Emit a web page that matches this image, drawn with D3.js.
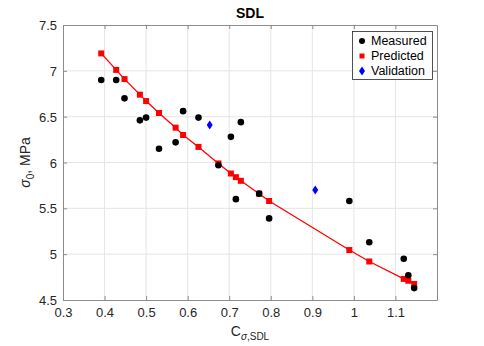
<!DOCTYPE html>
<html><head><meta charset="utf-8">
<script src="https://cdn.jsdelivr.net/npm/d3@7"></script>
<style>body{margin:0;background:#fff}svg{display:block;font-family:"Liberation Sans",Arial,sans-serif}</style>
</head><body><svg id="c" width="484" height="346"></svg>
<script>
const cValues = [0.392,0.428,0.448,0.485,0.500,0.531,0.571,0.589,0.626,0.674,0.704,0.716,0.728,0.772,0.796,0.989,1.037,1.120,1.131,1.145];
const measured = [6.90,6.90,6.70,6.46,6.49,6.15,6.22,6.56,6.49,5.97,6.28,5.60,6.44,5.66,5.39,5.58,5.13,4.95,4.77,4.63];
const predicted = [7.19,7.01,6.91,6.74,6.67,6.54,6.38,6.30,6.17,5.99,5.88,5.84,5.80,5.66,5.58,5.045,4.92,4.73,4.71,4.675];
const validationC = [0.653,0.907];
const validation = [6.41,5.70];
const xTicks = [0.3,0.4,0.5,0.6,0.7,0.8,0.9,1,1.1];
const yTicks = [4.5,5,5.5,6,6.5,7,7.5];
const legendLabels = ["Measured","Predicted","Validation"];

const svg = d3.select("#c");
const L=63,R=437,T=25,B=300;
const x = d3.scaleLinear().domain([0.3,1.2]).range([L,R]);
const y = d3.scaleLinear().domain([4.5,7.5]).range([B,T]);
const axCol="#262626", gridCol="#e5e5e5";

// grid
svg.append("g").selectAll("line").data(xTicks.slice(1)).join("line")
  .attr("x1",d=>x(d)).attr("x2",d=>x(d)).attr("y1",T).attr("y2",B).attr("stroke",gridCol);
svg.append("g").selectAll("line").data(yTicks.slice(1,-1)).join("line")
  .attr("y1",d=>y(d)).attr("y2",d=>y(d)).attr("x1",L).attr("x2",R).attr("stroke",gridCol);

// axes
const fmt = d=>String(d);
const gx = svg.append("g").attr("transform",`translate(0,${B})`)
  .call(d3.axisBottom(x).tickValues(xTicks).tickFormat(fmt).tickSizeInner(-4).tickSizeOuter(0).tickPadding(8));
const gy = svg.append("g").attr("transform",`translate(${L},0)`)
  .call(d3.axisLeft(y).tickValues(yTicks).tickFormat(fmt).tickSizeInner(-4).tickSizeOuter(0).tickPadding(6));
const gx2 = svg.append("g").attr("transform",`translate(0,${T})`)
  .call(d3.axisTop(x).tickValues(xTicks).tickFormat("").tickSizeInner(-4).tickSizeOuter(0));
const gy2 = svg.append("g").attr("transform",`translate(${R},0)`)
  .call(d3.axisRight(y).tickValues(yTicks).tickFormat("").tickSizeInner(-4).tickSizeOuter(0));
[gx,gy,gx2,gy2].forEach(g=>{
  g.select(".domain").attr("stroke","#8c8c8c");
  g.selectAll(".tick line").attr("stroke","#8c8c8c");
  g.selectAll("text").attr("fill",axCol).style("font-size","13px").style("font-family","'Liberation Sans',Arial,sans-serif");
});
gy.selectAll("text").attr("dy","0.35em");

// predicted line
const pts = cValues.map((c,i)=>[c,predicted[i]]).sort((a,b)=>a[0]-b[0]);
svg.append("path").datum(pts)
  .attr("d",d3.line().x(d=>x(d[0])).y(d=>y(d[1])))
  .attr("fill","none").attr("stroke","#ff0000").attr("stroke-width",1.3);
// predicted squares
svg.append("g").selectAll("rect").data(pts).join("rect")
  .attr("x",d=>x(d[0])-3).attr("y",d=>y(d[1])-3).attr("width",6).attr("height",6).attr("fill","#ff0000");
// measured
svg.append("g").selectAll("circle").data(cValues.map((c,i)=>[c,measured[i]])).join("circle")
  .attr("cx",d=>x(d[0])).attr("cy",d=>y(d[1])).attr("r",3.3).attr("fill","#000");
// validation diamonds
const diamond = (cx,cy)=>`M${cx},${cy-4.5}L${cx+3},${cy}L${cx},${cy+4.5}L${cx-3},${cy}Z`;
svg.append("g").selectAll("path").data(validationC.map((c,i)=>[c,validation[i]])).join("path")
  .attr("d",d=>diamond(x(d[0]),y(d[1]))).attr("fill","#0000ff");

// title
svg.append("text").attr("x",(L+R)/2).attr("y",18).attr("text-anchor","middle")
  .style("font-size","14px").style("font-weight","bold").attr("fill","#000").text("SDL");
// x label
const xl = svg.append("text").attr("x",(L+R)/2).attr("y",336).attr("text-anchor","middle")
  .style("font-size","14px").attr("fill",axCol);
xl.append("tspan").text("C");
xl.append("tspan").attr("dy",4).style("font-size","10px").style("font-style","italic").text("σ");
xl.append("tspan").style("font-size","10px").text(",SDL");
// y label
const yl = svg.append("text").attr("transform",`translate(30,${(T+B)/2}) rotate(-90)`).attr("text-anchor","middle")
  .style("font-size","14px").attr("fill",axCol);
yl.append("tspan").style("font-style","italic").text("σ");
yl.append("tspan").attr("dy",4).style("font-size","10px").text("0");
yl.append("tspan").attr("dy",-4).text(", MPa");

// legend
const lg = svg.append("g");
lg.append("rect").attr("x",352.5).attr("y",31.5).attr("width",80).attr("height",48)
  .attr("fill","#fff").attr("stroke","#262626").attr("stroke-width",0.8);
const ly = [41,56,71];
lg.append("circle").attr("cx",362).attr("cy",ly[0]).attr("r",3).attr("fill","#000");
lg.append("rect").attr("x",359.5).attr("y",ly[1]-2.5).attr("width",5).attr("height",5).attr("fill","#ff0000");
lg.append("path").attr("d",diamond(362,ly[2])).attr("fill","#0000ff");
lg.selectAll("text").data(legendLabels).join("text")
  .attr("x",371).attr("y",(d,i)=>ly[i]).attr("dy","0.35em")
  .style("font-size","12.5px").attr("fill","#000").text(d=>d);
</script></body></html>
